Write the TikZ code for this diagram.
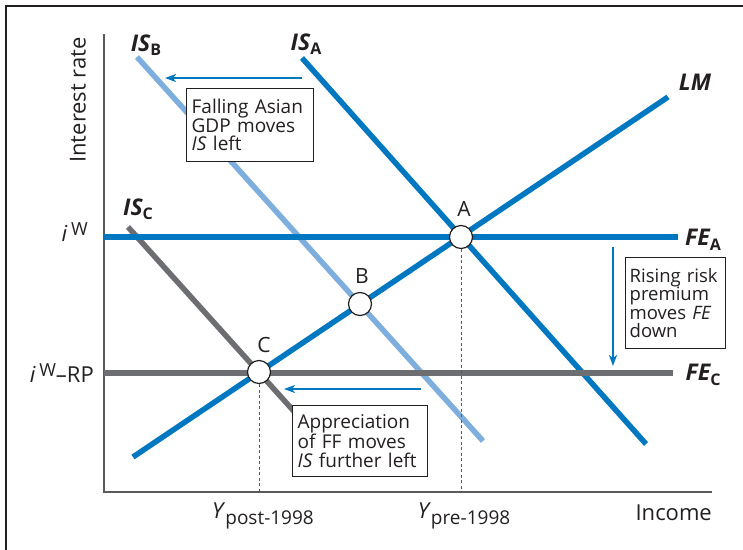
\documentclass[tikz,border=0pt]{standalone}
\usepackage{fontspec}
\setmainfont{Open Sans}
\usetikzlibrary{arrows.meta}

\definecolor{curveblue}{HTML}{0077C1}
\definecolor{curvelight}{HTML}{7DAEDD}
\definecolor{curvegray}{HTML}{6D6E71}
\definecolor{ink}{HTML}{231F20}
\definecolor{axisgray}{HTML}{58595B}

\newcommand{\curvelab}[2]{{\bfseries\itshape #1}\raisebox{-4.5pt}{\bfseries\fontsize{16}{16}\selectfont #2}}
\newcommand{\incomelab}[1]{\textit{Y}\raisebox{-5.5pt}{\fontsize{19}{19}\selectfont #1}}

\begin{document}
\begin{tikzpicture}[x=1pt,y=-1pt,
  every node/.style={text=ink,inner sep=0pt},
  curvethick/.style={line width=5.5pt},
  isA/.style={curvethick,draw=curveblue},
  isB/.style={curvethick,draw=curvelight},
  isC/.style={curvethick,draw=curvegray},
  lmcurve/.style={curvethick,draw=curveblue},
  feA/.style={curvethick,draw=curveblue},
  feC/.style={curvethick,draw=curvegray},
  axisline/.style={draw=axisgray,line width=1.6pt},
  guide/.style={draw=axisgray,line width=1pt,dash pattern=on 3pt off 2.5pt},
  shiftarrow/.style={draw=curveblue,line width=1.8pt,-{Stealth[length=11pt,width=8pt,inset=3pt]}},
  notebox/.style={draw=ink,line width=1.3pt,fill=white,anchor=north west,
    align=left,inner xsep=5pt,inner ysep=3pt,
    font=\fontsize{19}{18.4}\selectfont},
  eqpt/.style={circle,draw=ink,fill=white,line width=1.2pt,minimum size=23pt},
  ptlab/.style={font=\fontsize{21}{21}\selectfont},
  curvename/.style={font=\fontsize{23}{23}\selectfont},
  axislab/.style={font=\fontsize{22}{22}\selectfont}]

\useasboundingbox (0,0) rectangle (743,549);

% outer frame (top and left edges)
\coordinate (frTL) at (6,6);
\coordinate (frTR) at (745,6);
\coordinate (frBL) at (6,551);
\draw[ink,line width=2pt] (frBL) -- (frTL) -- (frTR);

% axes
\coordinate (O) at (104,492);
\coordinate (ytop) at (104,34);
\coordinate (xend) at (712,492);
\draw[axisline] (ytop) -- (O) -- (xend);

% IS, LM and FE curves
\coordinate (isB1) at (137,57);  \coordinate (isB2) at (483,441);
\coordinate (isA1) at (302,58);  \coordinate (isA2) at (646,444);
\coordinate (isC1) at (128,227); \coordinate (isC2) at (300,418);
\coordinate (lm1) at (133,457);  \coordinate (lm2) at (668,97);
\coordinate (feA1) at (104,237); \coordinate (feA2) at (678,237);
\coordinate (feC1) at (104,373); \coordinate (feC2) at (673,373);

\draw[isB] (isB1) -- (isB2);
\draw[isA] (isA1) -- (isA2);
\draw[isC] (isC1) -- (isC2);
\draw[lmcurve] (lm1) -- (lm2);
\draw[feA] (feA1) -- (feA2);
\draw[feC] (feC1) -- (feC2);

% explanatory boxes
\node[notebox,text width=117pt,minimum height=73pt] (noteAsia) at (186,88)
  {Falling Asian\\GDP moves\\\textit{IS} left};
\node[notebox,inner xsep=4pt,text width=92pt,minimum height=91pt,
  font=\fontsize{18.5}{18.4}\selectfont] (noteRisk) at (625,257)
  {\mbox{Rising risk}\\premium\\moves \textit{FE}\\down};
\node[notebox,text width=125pt,minimum height=71pt] (noteFF) at (292,405)
  {Appreciation\\of FF moves\\\textit{IS} further left};

% shift arrows
\coordinate (arAs) at (302,78);  \coordinate (arAe) at (165,78);
\coordinate (arRs) at (613,247); \coordinate (arRe) at (613,366);
\coordinate (arFs) at (421,389); \coordinate (arFe) at (284,389);
\draw[shiftarrow] (arAs) -- (arAe);
\draw[shiftarrow] (arRs) -- (arRe);
\draw[shiftarrow] (arFs) -- (arFe);

% equilibrium points
\node[eqpt] (A) at (461,237) {};
\node[eqpt] (B) at (360,304) {};
\node[eqpt] (C) at (259,372) {};
\draw[guide] (A.south) -- (A |- O);
\draw[guide] (C.south) -- (C |- O);

\node[ptlab] (labA) at (464,209) {A};
\node[ptlab] (labB) at (362,276) {B};
\node[ptlab] (labC) at (264,345) {C};

% curve names
\node[curvename] (nIsB) at (146,45) {\curvelab{IS}{B}};
\node[curvename] (nIsA) at (306,44) {\curvelab{IS}{A}};
\node[curvename] (nIsC) at (138,209) {\curvelab{IS}{C}};
\node[curvename] (nLm) at (695,82) {\bfseries\itshape LM};
\node[curvename] (nFeA) at (703,240) {\curvelab{FE}{A}};
\node[curvename] (nFeC) at (703,375) {\curvelab{FE}{C}};

% axis labels
\node[axislab,rotate=90] (ylab) at (78,100) {Interest rate};
\node[axislab,anchor=east] (iw) at (88,232) {\textit{i}\,\raisebox{6pt}{\fontsize{18}{18}\selectfont W}};
\node[axislab,anchor=east] (iwrp) at (94,373) {\textit{i}\,\raisebox{6pt}{\fontsize{18}{18}\selectfont W}–RP};
\node[axislab] (ypost) at (263,516) {\incomelab{post-1998}};
\node[axislab] (ypre) at (464,516) {\incomelab{pre-1998}};
\node[axislab,anchor=east] (inc) at (712,513) {Income};

\end{tikzpicture}
\end{document}
